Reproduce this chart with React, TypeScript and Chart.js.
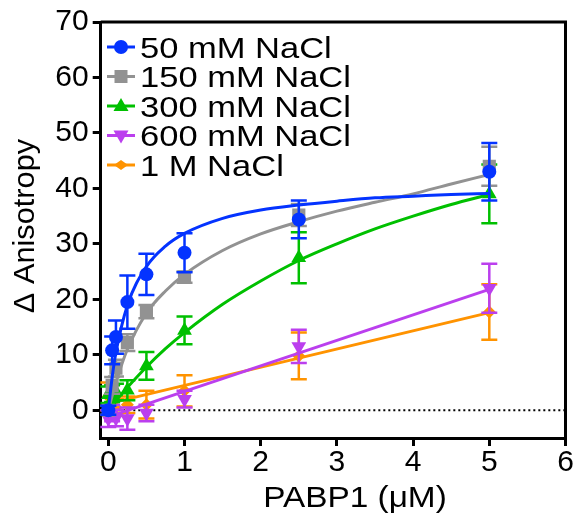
import React, { useEffect, useRef } from 'react';
import { Chart, registerables } from 'chart.js';
Chart.register(...registerables);

// ---- data ----
const conc = [0, 0.05, 0.1, 0.25, 0.5, 1, 2.5, 5];
const nacl50 = [0, 10.8, 13.2, 19.5, 24.5, 28.4, 34.4, 43.0];
const nacl50Err = [0.8, 2.5, 3.0, 4.8, 3.7, 3.5, 3.4, 5.2];
const nacl150 = [0, 4.5, 7.6, 12.2, 17.8, 24.0, 35.2, 44.0];
const nacl150Err = [0.8, 1.5, 1.5, 1.5, 1.2, 1.0, 2.0, 3.5];
const nacl300 = [2.8, 3.0, 3.3, 3.6, 8.0, 14.4, 27.5, 39.0];
const nacl300Err = [1.5, 1.5, 1.5, 1.8, 2.5, 2.5, 4.6, 5.3];
const nacl600 = [-1.5, -0.5, -1.4, -1.5, -0.5, 2.0, 11.5, 22.0];
const nacl600Err = [1.5, 1.5, 1.5, 2.0, 1.5, 1.5, 3.0, 4.4];
const nacl1M = [2.5, 1.0, 0.5, 1.0, 1.0, 3.5, 9.8, 17.7];
const nacl1MErr = [2.5, 1.5, 1.5, 1.5, 2.5, 2.8, 4.2, 5.0];

// fitted curves
const fitX = [0, 0.05, 0.1, 0.25, 0.5, 0.75, 1, 1.5, 2, 2.5, 3, 3.5, 4, 4.5, 5];
const fit50 = [0, 5.9, 10.4, 18.9, 25.9, 29.6, 31.9, 34.6, 36.1, 37.0, 37.7, 38.3, 38.6, 38.9, 39.1];
const fit150 = [0, 2.6, 5.0, 11.0, 17.5, 21.5, 24.5, 28.8, 31.8, 34.0, 35.9, 37.5, 39.0, 40.8, 42.5];
const fit300 = [0, 0.9, 1.7, 4.1, 7.8, 11.1, 14.0, 19.1, 23.3, 27.0, 30.0, 32.7, 35.0, 37.1, 38.9];
const linX = [0, 5];
const fit600 = [-1.2, 21.8];
const fit1M = [1.2, 17.6];

const zeroX = [0, 6];
const zeroY = [0, 0];

const xTicks = [0, 1, 2, 3, 4, 5, 6];
const yTicks = [0, 10, 20, 30, 40, 50, 60, 70];

const labels = ['50 mM NaCl', '150 mM NaCl', '300 mM NaCl', '600 mM NaCl', '1 M NaCl'];
const colors = ['#0433FF', '#929292', '#00C000', '#BB3FEE', '#FF9300'];
const shapes = ['circle', 'square', 'triangle', 'invtriangle', 'diamond'];

const FONT = '"Liberation Sans", Arial, Helvetica, sans-serif';

const toPts = (xs: number[], ys: number[]) => xs.map((x, i) => ({ x, y: ys[i] }));

function drawShape(ctx: CanvasRenderingContext2D, shape: string, x: number, y: number, color: string) {
  ctx.save();
  ctx.fillStyle = color;
  ctx.beginPath();
  if (shape === 'circle') {
    ctx.arc(x, y, 7, 0, Math.PI * 2);
  } else if (shape === 'square') {
    ctx.rect(x - 6.5, y - 6.5, 13, 13);
  } else if (shape === 'triangle') {
    ctx.moveTo(x, y - 8);
    ctx.lineTo(x + 7.5, y + 5);
    ctx.lineTo(x - 7.5, y + 5);
    ctx.closePath();
  } else if (shape === 'invtriangle') {
    ctx.moveTo(x, y + 8);
    ctx.lineTo(x + 7.5, y - 5);
    ctx.lineTo(x - 7.5, y - 5);
    ctx.closePath();
  } else {
    ctx.moveTo(x, y - 5);
    ctx.lineTo(x + 7, y);
    ctx.lineTo(x, y + 5);
    ctx.lineTo(x - 7, y);
    ctx.closePath();
  }
  ctx.fill();
  ctx.restore();
}

const decorPlugin = {
  id: 'decor',
  beforeDatasetDraw(chart: any, args: any) {
    const ds = chart.data.datasets[args.index];
    if (!ds.errs) return;
    const ctx = chart.ctx;
    const ys = chart.scales.y;
    ctx.save();
    ctx.strokeStyle = ds.borderColor;
    ctx.lineWidth = 2.5;
    args.meta.data.forEach((pt: any, i: number) => {
      const v = ds.data[i].y;
      const e = ds.errs[i];
      const yt = ys.getPixelForValue(v + e);
      const yb = ys.getPixelForValue(v - e);
      ctx.beginPath();
      ctx.moveTo(pt.x, yt);
      ctx.lineTo(pt.x, yb);
      ctx.moveTo(pt.x - 8, yt);
      ctx.lineTo(pt.x + 8, yt);
      ctx.moveTo(pt.x - 8, yb);
      ctx.lineTo(pt.x + 8, yb);
      ctx.stroke();
    });
    ctx.restore();
  },
  afterDraw(chart: any) {
    const ctx = chart.ctx;
    const a = chart.chartArea;
    ctx.save();
    // frame
    ctx.strokeStyle = '#000';
    ctx.lineWidth = 3;
    ctx.beginPath();
    ctx.moveTo(a.left, a.top);
    ctx.lineTo(a.right, a.top);
    ctx.lineTo(a.right, a.bottom);
    ctx.stroke();
    // legend
    labels.forEach((lab, i) => {
      const cy = 47 + i * 29.5;
      ctx.strokeStyle = colors[i];
      ctx.lineWidth = 3;
      ctx.beginPath();
      ctx.moveTo(107, cy);
      ctx.lineTo(135, cy);
      ctx.stroke();
      drawShape(ctx, shapes[i], 121, cy, colors[i]);
      ctx.save();
      ctx.fillStyle = '#000';
      ctx.font = `29px ${FONT}`;
      ctx.textBaseline = 'alphabetic';
      ctx.translate(140, cy + 10.5);
      ctx.scale(1.19, 1);
      ctx.fillText(lab, 0, 0);
      ctx.restore();
    });
    // x title
    ctx.save();
    ctx.fillStyle = '#000';
    ctx.font = `29px ${FONT}`;
    ctx.textAlign = 'center';
    ctx.textBaseline = 'alphabetic';
    ctx.translate(355, 507);
    ctx.scale(1.15, 1);
    ctx.fillText('PABP1 (μM)', 0, 0);
    ctx.restore();
    // y title
    ctx.save();
    ctx.fillStyle = '#000';
    ctx.font = `29px ${FONT}`;
    ctx.textAlign = 'center';
    ctx.textBaseline = 'alphabetic';
    ctx.translate(34, 226);
    ctx.rotate(-Math.PI / 2);
    ctx.scale(1.06, 1);
    ctx.fillText('Δ Anisotropy', 0, 0);
    ctx.restore();
    ctx.restore();
  },
};

export default function App() {
  const ref = useRef<HTMLCanvasElement>(null);
  useEffect(() => {
    if (!ref.current) return;
    const seriesY = [nacl50, nacl150, nacl300, nacl600, nacl1M];
    const seriesErr = [nacl50Err, nacl150Err, nacl300Err, nacl600Err, nacl1MErr];
    const pointStyles: any[] = ['circle', 'rect', 'triangle', 'triangle', 'rectRot'];
    const radii = [7, 9.3, 8.5, 8.5, 6.5];
    const rots = [0, 0, 0, 180, 0];
    const pointSets: any[] = seriesY.map((ys, i) => ({
      type: 'scatter',
      label: labels[i],
      data: toPts(conc, ys),
      errs: seriesErr[i],
      showLine: false,
      borderColor: colors[i],
      backgroundColor: colors[i],
      pointStyle: pointStyles[i],
      pointRadius: radii[i],
      pointRotation: rots[i],
      pointBorderWidth: 0,
      order: i * 2,
    }));
    const fits = [
      toPts(fitX, fit50),
      toPts(fitX, fit150),
      toPts(fitX, fit300),
      toPts(linX, fit600),
      toPts(linX, fit1M),
    ];
    const fitSets: any[] = fits.map((d, i) => ({
      type: 'line',
      label: labels[i] + ' fit',
      data: d,
      borderColor: colors[i],
      borderWidth: 3,
      pointRadius: 0,
      fill: false,
      cubicInterpolationMode: 'monotone',
      order: i * 2 + 1,
    }));
    const zeroSet: any = {
      type: 'line',
      label: 'zero',
      data: toPts(zeroX, zeroY),
      borderColor: '#000',
      borderWidth: 1.8,
      borderDash: [2, 3],
      pointRadius: 0,
      order: 20,
    };
    const chart = new Chart(ref.current, {
      type: 'scatter',
      data: { datasets: [...pointSets, ...fitSets, zeroSet] },
      options: {
        animation: false,
        responsive: false,
        devicePixelRatio: 1,
        layout: { padding: { left: 0, top: 22, right: 11.5, bottom: 0 } },
        plugins: { legend: { display: false }, tooltip: { enabled: false } },
        scales: {
          x: {
            type: 'linear',
            min: -0.1,
            max: 6,
            afterBuildTicks: (s: any) => { s.ticks = xTicks.map((v) => ({ value: v })); },
            afterFit: (s: any) => { s.height = 80; },
            grid: { display: true, drawOnChartArea: false, drawTicks: true, tickLength: 8, color: '#000', lineWidth: 3 },
            border: { display: true, color: '#000', width: 3 },
            ticks: { color: '#000', font: { family: FONT, size: 30, lineHeight: 1 }, padding: 2, maxRotation: 0 },
          },
          y: {
            type: 'linear',
            min: -5,
            max: 70,
            afterBuildTicks: (s: any) => { s.ticks = yTicks.map((v) => ({ value: v })); },
            afterFit: (s: any) => { s.width = 100.7; },
            grid: { display: true, drawOnChartArea: false, drawTicks: true, tickLength: 8, color: '#000', lineWidth: 3 },
            border: { display: true, color: '#000', width: 3 },
            ticks: { color: '#000', font: { family: FONT, size: 30, lineHeight: 1 }, padding: 4 },
          },
        },
      } as any,
      plugins: [decorPlugin as any],
    });
    return () => chart.destroy();
  }, []);
  return (
    <div style={{ position: 'absolute', left: 0, top: 0, width: 577, height: 518, background: '#fff' }}>
      <canvas ref={ref} width={577} height={518} />
    </div>
  );
}
